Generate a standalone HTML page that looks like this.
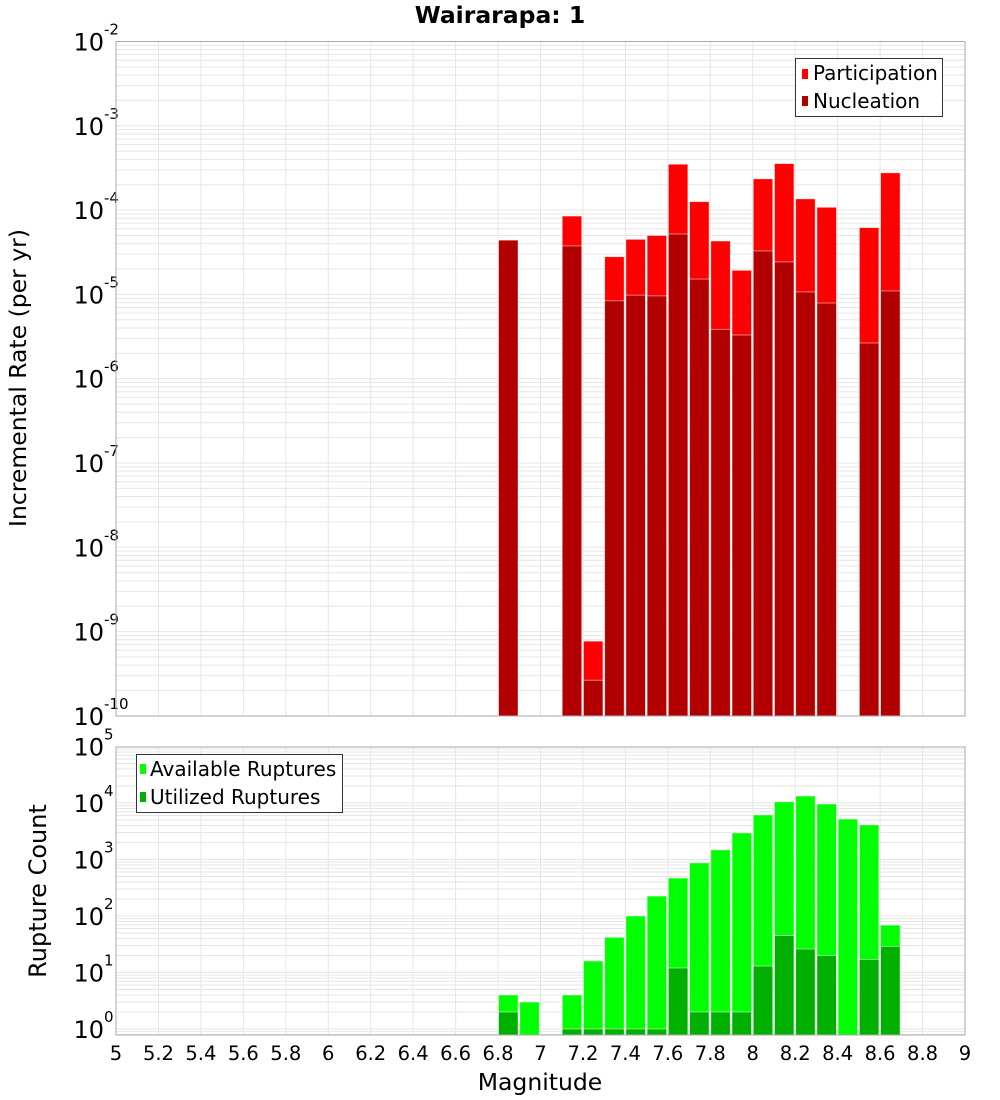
<!DOCTYPE html>
<html><head><meta charset="utf-8"><style>
body{margin:0;background:#fff;}
svg{display:block;font-family:"Liberation Sans","DejaVu Sans",sans-serif;}
</style></head><body>
<svg id="chart" width="1000" height="1100" viewBox="0 0 1000 1100" xmlns="http://www.w3.org/2000/svg">
<text x="500" y="23" text-anchor="middle" font-size="23.5" font-weight="bold" font-family="DejaVu Sans, sans-serif">Wairarapa: 1</text>
<g id="gtop"></g>
<g id="gbot"></g>
<text transform="translate(26,378) rotate(-90)" text-anchor="middle" font-size="23.5" font-family="DejaVu Sans, sans-serif">Incremental Rate (per yr)</text>
<text transform="translate(46,891) rotate(-90)" text-anchor="middle" font-size="24" font-family="DejaVu Sans, sans-serif">Rupture Count</text>
<text x="540" y="1090" text-anchor="middle" font-size="23.5" font-family="DejaVu Sans, sans-serif">Magnitude</text>
<g>
<rect x="795.5" y="58.5" width="147" height="58" fill="#fff" stroke="#333"/>
<rect x="802" y="69" width="6" height="10" fill="#ff0000"/>
<text x="813" y="80" font-size="20" font-family="DejaVu Sans, sans-serif">Participation</text>
<rect x="802" y="96" width="6" height="10" fill="#b20000"/>
<text x="813" y="108" font-size="20" font-family="DejaVu Sans, sans-serif">Nucleation</text>
</g>
<g>
<rect x="136.5" y="754.5" width="206" height="58" fill="#fff" stroke="#333"/>
<rect x="140" y="764" width="6" height="10" fill="#00ff00"/>
<text x="150" y="776" font-size="20" font-family="DejaVu Sans, sans-serif">Available Ruptures</text>
<rect x="140" y="792" width="6" height="10" fill="#00b000"/>
<text x="150" y="804" font-size="20" font-family="DejaVu Sans, sans-serif">Utilized Ruptures</text>
</g>
</svg>
<script>
const magnitudes=[6.8,6.9,7.0,7.1,7.2,7.3,7.4,7.5,7.6,7.7,7.8,7.9,8.0,8.1,8.2,8.3,8.4,8.5,8.6];
const participation=[4.4e-5,0,0,8.5e-5,7.7e-10,2.8e-5,4.5e-5,5.0e-5,3.5e-4,1.26e-4,4.3e-5,1.93e-5,2.35e-4,3.56e-4,1.36e-4,1.08e-4,0,6.2e-5,2.77e-4];
const nucleation=[4.4e-5,0,0,3.76e-5,2.65e-10,8.4e-6,9.8e-6,9.6e-6,5.2e-5,1.52e-5,3.85e-6,3.3e-6,3.28e-5,2.43e-5,1.07e-5,7.9e-6,0,2.65e-6,1.1e-5];
const available=[4,3,0,4,16,42,100,225,470,870,1480,2950,6150,10500,13300,9600,5200,4100,69];
const utilized=[2,0,0,1,1,1,1,1,12,2,2,2,13,45,26,20,0,17,29];
const xTicks=[5,5.2,5.4,5.6,5.8,6,6.2,6.4,6.6,6.8,7,7.2,7.4,7.6,7.8,8,8.2,8.4,8.6,8.8,9];
const topExps=[-2,-3,-4,-5,-6,-7,-8,-9,-10];
const botExps=[0,1,2,3,4,5];

const NS="http://www.w3.org/2000/svg";
const X0=116,X1=965;
const xS=m=>X0+(m-5)/4*(X1-X0);
const TT=41.5,TB=716,BT=747,BB=1035;
const yT=v=>TT+84.3*(-2-Math.log10(v));
const yB=v=>1029-56.5*Math.log10(v);
function mk(p,tag,a){const e=document.createElementNS(NS,tag);for(const k in a)e.setAttribute(k,a[k]);p.appendChild(e);return e;}
const gTop=document.getElementById('gtop'),gBot=document.getElementById('gbot');

function frame(g,yt,yb,yfn,dmin,dmax,exps,name){
  mk(g,'rect',{x:X0,y:yt,width:X1-X0,height:yb-yt,fill:'#fff'});
  for(let d=dmin;d<=dmax;d++)for(let k=1;k<10;k++){const y=yfn(k*Math.pow(10,d));if(y<yt||y>yb)continue;
    mk(g,'line',{x1:X0,x2:X1,y1:y,y2:y,stroke:'#e6e6e6','stroke-width':1});}
  xTicks.forEach(t=>{const x=xS(t);mk(g,'line',{x1:x,x2:x,y1:yt,y2:yb,stroke:'#e6e6e6','stroke-width':1});});
  exps.forEach(e=>{const y=yfn(Math.pow(10,e));
    const t=mk(g,'text',{x:104,y:y+9,'text-anchor':'end','font-size':24,'font-family':'DejaVu Sans, sans-serif'});t.textContent='10';
    
    
    const s=mk(g,'text',{x:104,y:y-7,'font-size':15,'font-family':'DejaVu Sans, sans-serif'});s.textContent=String(e);
    
    });
}
frame(gTop,TT,TB,yT,-10,-3,topExps,'top-y');
frame(gBot,BT,BB,yB,-1,4,botExps,'bottom-y');

function bars(g,vals,yfn,yb,color,name){
  vals.forEach((v,i)=>{if(!(v>0))return;const x=xS(magnitudes[i])+0.5,y=Math.max(yfn(v),0);
    const r=mk(g,'rect',{x:x,y:y,width:19.5,height:yb-y,fill:color,stroke:'rgba(255,255,255,0.6)','stroke-width':0.8});
    
    });
}
bars(gTop,participation,yT,TB,'#ff0000','participation');
bars(gTop,nucleation,yT,TB,'#b20000','nucleation');
bars(gBot,available,yB,BB,'#00ff00','available');
bars(gBot,utilized,yB,BB,'#00b000','utilized');
mk(gTop,'rect',{x:X0,y:TT,width:X1-X0,height:TB-TT,fill:'none',stroke:'#aaa'});
mk(gBot,'rect',{x:X0,y:BT,width:X1-X0,height:BB-BT,fill:'none',stroke:'#aaa'});
xTicks.forEach(t=>{const l=mk(gBot,'text',{x:xS(t),y:1060,'text-anchor':'middle','font-size':19.5,'font-family':'DejaVu Sans, sans-serif'});
  l.textContent=String(t);
  
  });
</script>
</body></html>
